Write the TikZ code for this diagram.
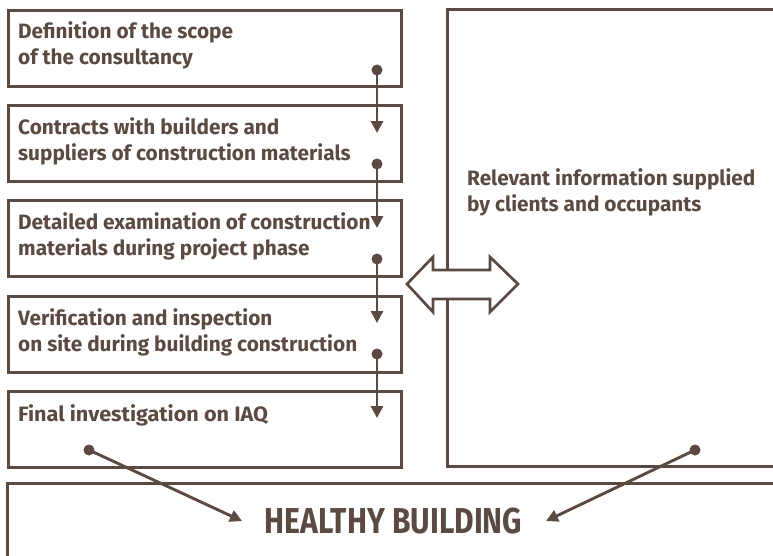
\documentclass[tikz,border=0pt]{standalone}
\usepackage{fontspec}
\setmainfont{Fira Sans}
\usetikzlibrary{arrows.meta}
\definecolor{brn}{HTML}{5A4A42}
\tikzset{
  boxline/.style={draw=brn, line width=3pt},
  boxtxt/.style={text=brn, font=\bfseries\fontsize{20.8}{25.5}\selectfont, inner sep=0pt, anchor=base west, align=left},
  conn/.style={draw=brn, line width=2.9pt, -{Triangle[width=12pt,length=12pt]}},
  dotc/.style={circle, fill=brn, inner sep=0pt, minimum size=11pt},
  dbl/.style={draw=brn, fill=white, line width=2.7pt, line join=miter}
}
\begin{document}
\begin{tikzpicture}[x=1pt,y=-1pt]
\useasboundingbox (0,0) rectangle (773,555);
% left column boxes
\foreach \n/\t in {1/9,2/104,3/199,4/295,5/390}{
  \node[boxline, rectangle, minimum width=393pt, minimum height=76pt, inner sep=0pt, anchor=north west] (b\n) at (7,\t) {};
}
% (anchor base = baseline of the last line)
\node[boxtxt] (t1) at (18,64) {Definition of the scope\\of the consultancy};
\node[boxtxt] (t2) at (18,160) {Contracts with builders and\\suppliers of construction materials};
\node[boxtxt] (t3) at (18,255) {Detailed examination of construction\\materials during project phase};
\node[boxtxt] (t4) at (18,351) {Verification and inspection\\on site during building construction};
\node[boxtxt] (t5) at (18,421) {\scalebox{1.04}[1]{Final investigation on IAQ}};
% right box (open on the right)
\coordinate (r1) at (773,9);
\coordinate (r2) at (447,9);
\coordinate (r3) at (447,466);
\coordinate (r4) at (773,466);
\draw[boxline] (r1) -- (r2) -- (r3) -- (r4);
\node[boxtxt] (rt) at (467,211) {Relevant information supplied\\by clients and occupants};
% bottom box
\coordinate (h1) at (773,483);
\coordinate (h2) at (7,483);
\coordinate (h3) at (7,560);
\draw[boxline] (h1) -- (h2) -- (h3);
\node[text=brn, font=\bfseries\fontsize{36}{40}\selectfont, inner sep=0pt, anchor=base] (hb) at (393.5,533) {\scalebox{0.835}[1]{HEALTHY BUILDING}};
% vertical connectors
\node[dotc] (d1) at (377,70) {};
\node[dotc] (d2) at (377,164) {};
\node[dotc] (d3) at (377,259) {};
\node[dotc] (d4) at (377,354) {};
\coordinate (a1) at (377,133);
\coordinate (a2) at (377,228);
\coordinate (a3) at (377,323);
\coordinate (a4) at (377,418);
\draw[conn] (d1.center) -- (a1);
\draw[conn] (d2.center) -- (a2);
\draw[conn] (d3.center) -- (a3);
\draw[conn] (d4.center) -- (a4);
% diagonal connectors
\node[dotc] (d5) at (89,450) {};
\node[dotc] (d6) at (695,450) {};
\coordinate (e1) at (242,521);
\coordinate (e2) at (546,521);
\draw[conn] (d5.center) -- (e1);
\draw[conn] (d6.center) -- (e2);
% double arrow
\draw[dbl] (407,284) -- (433,257) -- (433,270) -- (490,270) -- (490,257) -- (518,284)
  -- (490,312) -- (490,299) -- (433,299) -- (433,312) -- cycle;
\end{tikzpicture}
\end{document}
